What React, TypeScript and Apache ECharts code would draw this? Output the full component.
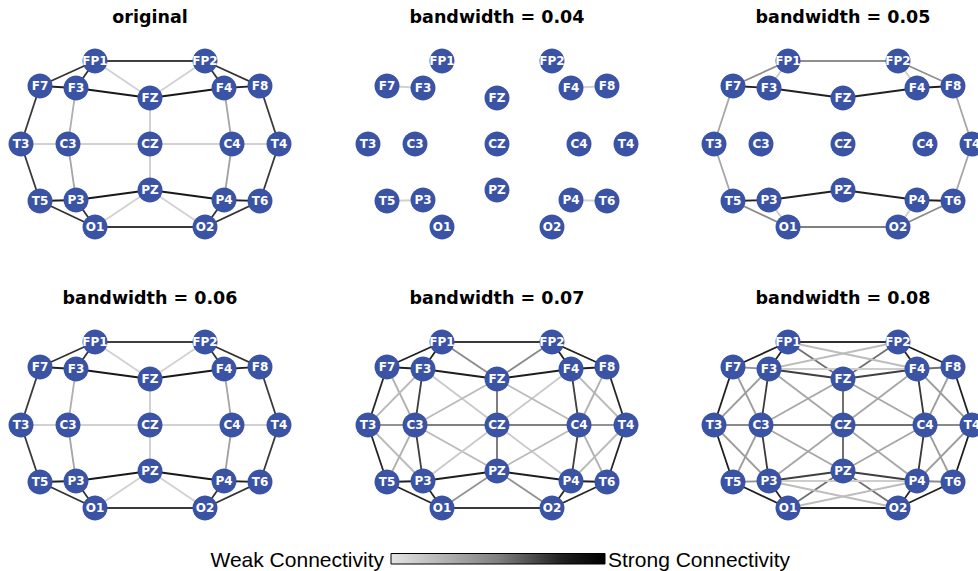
import React, { useEffect, useRef } from "react";
import * as echarts from "echarts";

// Electrode layout (arbitrary units, y up)
const electrodes: string[] = ["FP1", "FP2", "F7", "F3", "FZ", "F4", "F8", "T3", "C3", "CZ", "C4", "T4", "T5", "P3", "PZ", "P4", "T6", "O1", "O2"];
const electrodeX: number[] = [-55, 55, -110, -74, 0, 74, 110, -129, -82, 0, 82, 129, -110, -74, 0, 74, 110, -55, 55];
const electrodeY: number[] = [83, 83, 58, 56, 46, 56, 58, 0, 0, 0, 0, 0, -57, -56, -46, -56, -57, -83, -83];

const panelTitles: string[] = ["original", "bandwidth = 0.04", "bandwidth = 0.05", "bandwidth = 0.06", "bandwidth = 0.07", "bandwidth = 0.08"];

type Edge = [string, string, number];

const edgesOriginal: Edge[] = [
  ["FP1", "FP2", 0.7], ["FP1", "F7", 0.74], ["FP1", "F3", 0.74], ["FP2", "F4", 0.74], ["FP2", "F8", 0.74],
  ["F7", "F3", 0.8], ["F3", "FZ", 0.85], ["FZ", "F4", 0.85], ["F4", "F8", 0.8],
  ["F7", "T3", 0.72], ["F8", "T4", 0.72], ["T3", "T5", 0.72], ["T4", "T6", 0.72],
  ["T5", "P3", 0.8], ["P3", "PZ", 0.85], ["PZ", "P4", 0.85], ["P4", "T6", 0.8],
  ["T5", "O1", 0.74], ["P3", "O1", 0.74], ["P4", "O2", 0.74], ["T6", "O2", 0.74], ["O1", "O2", 0.72],
  ["F3", "C3", 0.25], ["F4", "C4", 0.3], ["C3", "P3", 0.3], ["C4", "P4", 0.33],
  ["FP1", "FZ", 0.08], ["FP2", "FZ", 0.08], ["FZ", "CZ", 0.1], ["T3", "C3", 0.08], ["C3", "CZ", 0.08],
  ["CZ", "C4", 0.08], ["C4", "T4", 0.08], ["CZ", "PZ", 0.1], ["PZ", "O1", 0.08], ["PZ", "O2", 0.08],
];

const edgesBw004: Edge[] = [
  ["F7", "F3", 0.08], ["F4", "F8", 0.08], ["T5", "P3", 0.08], ["P4", "T6", 0.08],
];

const edgesBw005: Edge[] = [
  ["FP1", "FP2", 0.42], ["FP1", "F7", 0.42], ["FP1", "F3", 0.1], ["FP2", "F8", 0.42], ["FP2", "F4", 0.1],
  ["F7", "F3", 0.8], ["F3", "FZ", 0.8], ["FZ", "F4", 0.8], ["F4", "F8", 0.8],
  ["F7", "T3", 0.3], ["F8", "T4", 0.3], ["T3", "T5", 0.3], ["T4", "T6", 0.3],
  ["T5", "P3", 0.8], ["P3", "PZ", 0.8], ["PZ", "P4", 0.8], ["P4", "T6", 0.8],
  ["T5", "O1", 0.45], ["P3", "O1", 0.12], ["P4", "O2", 0.12], ["T6", "O2", 0.45], ["O1", "O2", 0.5],
];

const edgesBw006: Edge[] = [
  ["FP1", "FP2", 0.7], ["FP1", "F7", 0.74], ["FP1", "F3", 0.74], ["FP2", "F4", 0.74], ["FP2", "F8", 0.74],
  ["F7", "F3", 0.8], ["F3", "FZ", 0.85], ["FZ", "F4", 0.85], ["F4", "F8", 0.8],
  ["F7", "T3", 0.72], ["F8", "T4", 0.72], ["T3", "T5", 0.72], ["T4", "T6", 0.72],
  ["T5", "P3", 0.8], ["P3", "PZ", 0.85], ["PZ", "P4", 0.85], ["P4", "T6", 0.8],
  ["T5", "O1", 0.74], ["P3", "O1", 0.74], ["P4", "O2", 0.74], ["T6", "O2", 0.74], ["O1", "O2", 0.72],
  ["F3", "C3", 0.25], ["F4", "C4", 0.3], ["C3", "P3", 0.3], ["C4", "P4", 0.33],
  ["FP1", "FZ", 0.08], ["FP2", "FZ", 0.08], ["FZ", "CZ", 0.1], ["T3", "C3", 0.08], ["C3", "CZ", 0.08],
  ["CZ", "C4", 0.08], ["C4", "T4", 0.08], ["CZ", "PZ", 0.1], ["PZ", "O1", 0.08], ["PZ", "O2", 0.08],
];

const edgesBw007: Edge[] = [
  ["FP1", "FP2", 0.72], ["FP1", "F7", 0.8], ["FP1", "F3", 0.8], ["FP2", "F4", 0.8], ["FP2", "F8", 0.8],
  ["F7", "F3", 0.8], ["F3", "FZ", 0.82], ["FZ", "F4", 0.82], ["F4", "F8", 0.8],
  ["F7", "T3", 0.78], ["F8", "T4", 0.78], ["T3", "T5", 0.78], ["T4", "T6", 0.78],
  ["F3", "C3", 0.7], ["F4", "C4", 0.7], ["C3", "P3", 0.7], ["C4", "P4", 0.7],
  ["T5", "P3", 0.8], ["P3", "PZ", 0.82], ["PZ", "P4", 0.82], ["P4", "T6", 0.8],
  ["T5", "O1", 0.78], ["P3", "O1", 0.78], ["P4", "O2", 0.78], ["T6", "O2", 0.78], ["O1", "O2", 0.72],
  ["FP1", "FZ", 0.45], ["FP2", "FZ", 0.45], ["FZ", "CZ", 0.55], ["CZ", "PZ", 0.55],
  ["C3", "CZ", 0.5], ["CZ", "C4", 0.5], ["T3", "C3", 0.4], ["C4", "T4", 0.4], ["PZ", "O1", 0.4], ["PZ", "O2", 0.4],
  ["F7", "C3", 0.25], ["F3", "T3", 0.2], ["F3", "CZ", 0.12], ["FZ", "C3", 0.2], ["F4", "CZ", 0.12], ["FZ", "C4", 0.2],
  ["F4", "T4", 0.2], ["F8", "C4", 0.25], ["T3", "P3", 0.2], ["C3", "T5", 0.25], ["C3", "PZ", 0.2], ["CZ", "P3", 0.12],
  ["CZ", "P4", 0.12], ["C4", "PZ", 0.2], ["C4", "T6", 0.25], ["T4", "P4", 0.2],
];

const edgesBw008: Edge[] = [
  ["FP1", "FP2", 0.75], ["FP1", "F7", 0.8], ["FP1", "F3", 0.78], ["FP2", "F4", 0.78], ["FP2", "F8", 0.8],
  ["F7", "F3", 0.4], ["F3", "FZ", 0.7], ["FZ", "F4", 0.7], ["F4", "F8", 0.55],
  ["F7", "T3", 0.8], ["F8", "T4", 0.8], ["T3", "T5", 0.8], ["T4", "T6", 0.8],
  ["F3", "C3", 0.72], ["F4", "C4", 0.72], ["C3", "P3", 0.72], ["C4", "P4", 0.72],
  ["T5", "P3", 0.4], ["P3", "PZ", 0.7], ["PZ", "P4", 0.7], ["P4", "T6", 0.45],
  ["T5", "O1", 0.8], ["P3", "O1", 0.78], ["P4", "O2", 0.78], ["T6", "O2", 0.8], ["O1", "O2", 0.78],
  ["FP1", "FZ", 0.55], ["FP2", "FZ", 0.55], ["FZ", "CZ", 0.6], ["CZ", "PZ", 0.6],
  ["C3", "CZ", 0.55], ["CZ", "C4", 0.55], ["T3", "C3", 0.45], ["C4", "T4", 0.45], ["PZ", "O1", 0.55], ["PZ", "O2", 0.55],
  ["F7", "C3", 0.35], ["F3", "T3", 0.35], ["F3", "CZ", 0.3], ["FZ", "C3", 0.3], ["F4", "CZ", 0.3], ["FZ", "C4", 0.3],
  ["F4", "T4", 0.35], ["F8", "C4", 0.35], ["T3", "P3", 0.35], ["C3", "T5", 0.35], ["C3", "PZ", 0.3], ["CZ", "P3", 0.3],
  ["CZ", "P4", 0.3], ["C4", "PZ", 0.3], ["C4", "T6", 0.35], ["T4", "P4", 0.35],
  ["FP1", "F4", 0.18], ["FP2", "F3", 0.18], ["F3", "F4", 0.1], ["P3", "P4", 0.1], ["P3", "O2", 0.18], ["P4", "O1", 0.18],
];

const panelEdges: Edge[][] = [edgesOriginal, edgesBw004, edgesBw005, edgesBw006, edgesBw007, edgesBw008];

// layout (pixel centres of each panel)
const panelCX = [150, 497, 843, 150, 497, 843];
const panelCY = [144, 144, 144, 425, 425, 425];

const grayStops: [number, number][] = [[0, 224], [0.5, 128], [0.8, 32], [1, 0]];
function grayFor(w: number): string {
  for (let i = 1; i < grayStops.length; i++) {
    const [p0, g0] = grayStops[i - 1];
    const [p1, g1] = grayStops[i];
    if (w <= p1) {
      const g = Math.round(g0 + ((w - p0) / (p1 - p0)) * (g1 - g0));
      return `rgb(${g},${g},${g})`;
    }
  }
  return "rgb(0,0,0)";
}

export default function App() {
  const ref = useRef<HTMLDivElement>(null);
  useEffect(() => {
    if (!ref.current) return;
    const chart = echarts.init(ref.current, undefined, { renderer: "svg" });
    const halfW = 130;
    const halfH = 83;
    const grids = panelCX.map((cx, i) => ({
      left: cx - halfW,
      top: panelCY[i] - halfH,
      width: halfW * 2,
      height: halfH * 2,
      containLabel: false,
    }));
    const xAxes = panelCX.map((_, i) => ({ type: "value", gridIndex: i, min: -halfW, max: halfW, show: false }));
    const yAxes = panelCX.map((_, i) => ({ type: "value", gridIndex: i, min: -halfH, max: halfH, show: false }));
    const nodes = electrodes.map((n, k) => ({ name: n, value: [electrodeX[k], electrodeY[k]] }));
    const series = panelEdges.map((edges, i) => ({
      type: "graph",
      coordinateSystem: "cartesian2d",
      xAxisIndex: i,
      yAxisIndex: i,
      layout: "none",
      symbol: "circle",
      symbolSize: 25,
      silent: true,
      itemStyle: { color: "#3a53a4" },
      label: {
        show: true,
        position: "inside",
        color: "#ffffff",
        fontWeight: "bold",
        fontSize: 12,
        fontFamily: "DejaVu Sans",
        formatter: "{b}",
      },
      lineStyle: { width: 1.8, opacity: 1, curveness: 0 },
      data: nodes,
      links: edges.map(([s, t, w]) => ({ source: s, target: t, lineStyle: { color: grayFor(w), width: 1.8 } })),
      z: 2,
    }));
    const titleTexts = panelTitles.map((t, i) => ({
      type: "text",
      x: panelCX[i],
      y: panelCY[i] - 127,
      style: {
        text: t,
        fill: "#000",
        font: "bold 17.5px 'DejaVu Sans'",
        textAlign: "center",
        textVerticalAlign: "middle",
      },
    }));
    const legendGraphics = [
      {
        type: "text",
        x: 384,
        y: 559,
        style: { text: "Weak Connectivity", fill: "#000", font: "21px 'Liberation Sans'", textAlign: "right", textVerticalAlign: "middle" },
      },
      {
        type: "rect",
        shape: { x: 391, y: 553.5, width: 214, height: 10.5 },
        style: {
          fill: new echarts.graphic.LinearGradient(0, 0, 1, 0, [
            { offset: 0, color: "#e4e4e4" },
            { offset: 0.5, color: "#808080" },
            { offset: 0.8, color: "#202020" },
            { offset: 1, color: "#000000" },
          ]),
          stroke: "#000",
          lineWidth: 1,
        },
      },
      {
        type: "text",
        x: 608,
        y: 559,
        style: { text: "Strong Connectivity", fill: "#000", font: "21px 'Liberation Sans'", textAlign: "left", textVerticalAlign: "middle" },
      },
    ];
    chart.setOption({
      animation: false,
      backgroundColor: "#ffffff",
      grid: grids,
      xAxis: xAxes,
      yAxis: yAxes,
      series,
      graphic: [...titleTexts, ...legendGraphics],
    } as any);
    return () => chart.dispose();
  }, []);
  return <div ref={ref} style={{ position: "fixed", left: 0, top: 0, width: 978, height: 571 }} />;
}
